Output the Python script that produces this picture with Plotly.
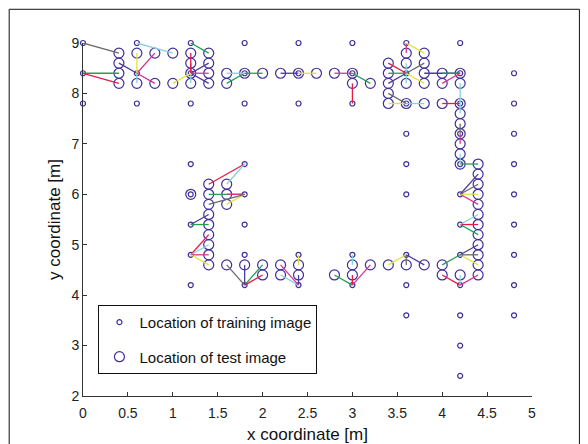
import plotly.graph_objects as go

# ---- data ----
train_x = [0, 0.6, 1.2, 1.8, 2.4, 3.0, 3.6, 4.2,
           0, 0.6, 1.2, 1.8, 2.4, 3.0, 3.6, 4.2, 4.8,
           0, 0.6, 1.2, 1.8, 2.4, 3.0, 3.6, 4.2, 4.8,
           3.6, 4.2, 4.8,
           1.2, 1.8, 3.6, 4.2, 4.8,
           1.2, 1.8, 3.6, 4.2, 4.8,
           1.2, 1.8, 4.2, 4.8,
           1.2, 1.8, 2.4, 3.0, 3.6, 4.2, 4.8,
           1.2, 1.8, 2.4, 3.0, 3.6, 4.2, 4.8,
           3.6, 4.2, 4.8,
           4.2,
           4.2]
train_y = [9.0] * 8 + [8.4] * 9 + [7.8] * 9 + [7.2] * 3 + [6.6] * 5 + [6.0] * 5 + \
          [5.4] * 4 + [4.8] * 7 + [4.2] * 7 + [3.6] * 3 + [3.0] + [2.4]

# test location -> estimated (training) location, link colour code
test_x = [0.4, 0.4, 0.4, 0.4, 0.6, 0.6, 0.8, 0.8, 1.0, 1.0,
          1.2, 1.2, 1.2, 1.2, 1.4, 1.4, 1.4, 1.4, 1.6, 1.6,
          1.8, 2.0, 2.2, 2.4, 2.6, 2.8, 3.0, 3.0, 3.2, 3.4,
          3.4, 3.4, 3.4, 3.4, 3.6, 3.6, 3.6, 3.6, 3.8, 3.8,
          3.8, 3.8, 3.8, 4.0, 4.0, 4.0, 4.2, 4.2, 4.2, 4.2,
          4.2, 4.2, 4.2, 4.2, 4.2, 4.4,
          4.4, 4.4, 4.4, 4.4, 4.4, 4.4, 4.4, 4.4, 4.4, 4.4, 4.0, 4.4, 4.2, 4.0,
          3.8, 3.6, 3.4, 3.2, 3.0, 3.0, 2.8, 2.4, 2.4, 2.2, 2.2, 2.0, 2.0, 1.8, 1.6,
          1.4, 1.4, 1.4, 1.4, 1.4, 1.4, 1.4, 1.6, 1.4, 1.6, 1.2, 1.4, 1.6]
test_y = [8.8, 8.6, 8.4, 8.2, 8.8, 8.2, 8.8, 8.2, 8.8, 8.2,
          8.8, 8.6, 8.4, 8.2, 8.8, 8.6, 8.4, 8.2, 8.4, 8.2,
          8.4, 8.4, 8.4, 8.4, 8.4, 8.4, 8.4, 8.2, 8.2, 8.6,
          8.4, 8.2, 8.0, 7.8, 8.8, 8.6, 8.2, 7.8, 8.8, 8.6,
          8.4, 8.2, 7.8, 8.4, 8.2, 7.8, 8.4, 8.2, 7.8, 7.6,
          7.4, 7.2, 7.0, 6.8, 6.6, 6.6,
          6.4, 6.2, 6.0, 5.8, 5.6, 5.4, 5.2, 5.0, 4.8, 4.6, 4.6, 4.4, 4.4, 4.4,
          4.6, 4.6, 4.6, 4.6, 4.6, 4.4, 4.4, 4.6, 4.4, 4.6, 4.4, 4.6, 4.4, 4.6, 4.6,
          4.6, 4.8, 5.0, 5.2, 5.4, 5.6, 5.8, 5.8, 6.0, 6.0, 6.0, 6.2, 6.2]
est_x = [0.0, 0.6, 0.0, 0.0, 0.6, 0.6, 0.6, 0.6, 0.6, 1.2,
         1.2, 1.2, 1.2, 1.2, 1.2, 1.2, 1.2, 1.2, 1.8, 1.8,
         1.8, 1.8, 2.4, 2.4, 2.4, 3.0, 3.0, 3.0, 3.0, 3.6,
         3.6, 3.6, 3.6, 3.6, 3.6, 3.6, 3.6, 3.6, 3.6, 3.6,
         4.2, 3.6, 3.6, 4.2, 4.2, 4.2, 4.2, 4.2, 4.2, 4.2,
         4.2, 4.2, 4.2, 4.2, 4.2, 4.2,
         4.2, 4.2, 4.2, 4.2, 4.2, 4.2, 4.2, 4.2, 4.2, 4.2, 4.2, 4.2, 4.2, 4.2,
         3.6, 3.6, 3.6, 3.0, 3.0, 3.0, 3.0, 2.4, 2.4, 2.4, 2.4, 1.8, 1.8, 1.8, 1.8,
         1.2, 1.2, 1.2, 1.2, 1.2, 1.2, 1.8, 1.8, 1.8, 1.8, 1.2, 1.8, 1.8]
est_y = [9.0, 8.4, 8.4, 8.4, 8.4, 8.4, 8.4, 8.4, 9.0, 8.4,
         8.4, 8.4, 8.4, 8.4, 9.0, 8.4, 8.4, 8.4, 8.4, 8.4,
         8.4, 8.4, 8.4, 8.4, 8.4, 8.4, 8.4, 7.8, 8.4, 8.4,
         8.4, 8.4, 7.8, 7.8, 9.0, 8.4, 8.4, 7.8, 9.0, 8.4,
         8.4, 8.4, 7.8, 8.4, 8.4, 7.8, 8.4, 7.8, 7.8, 7.8,
         7.2, 7.2, 7.2, 6.6, 6.6, 6.6,
         6.0, 6.0, 6.0, 6.0, 5.4, 5.4, 5.4, 4.8, 4.8, 4.8, 4.8, 4.2, 4.2, 4.2,
         4.8, 4.8, 4.8, 4.2, 4.8, 4.2, 4.2, 4.8, 4.2, 4.2, 4.2, 4.2, 4.2, 4.2, 4.2,
         4.8, 4.8, 4.8, 4.8, 5.4, 5.4, 6.0, 6.0, 6.0, 6.0, 6.0, 6.6, 6.6]
link_code = ['k', 'b', 'g', 'r', 'y', 'c', 'm', 'm', 'c', 'y',
             'r', 'r', 'b', 'c', 'g', 'b', 'm', 'b', 'c', 'g',
             'b', 'g', 'b', 'b', 'y', 'm', 'b', 'r', 'g', 'r',
             'g', 'b', 'k', 'y', 'm', 'c', 'c', 'b', 'y', 'k',
             'b', 'y', 'c', 'g', 'm', 'r', 'b', 'c', 'b', 'c',
             'k', 'b', 'm', 'c', 'b', 'g',
             'b', 'k', 'y', 'm', 'c', 'r', 'g', 'b', 'k', 'y', 'g', 'm', 'c', 'r',
             'b', 'k', 'y', 'm', 'c', 'r', 'g', 'y', 'b', 'm', 'c', 'g', 'r', 'b', 'k',
             'y', 'm', 'c', 'r', 'g', 'b', 'k', 'y', 'g', 'm', 'b', 'r', 'c']

x_ticks = [0, 0.5, 1, 1.5, 2, 2.5, 3, 3.5, 4, 4.5, 5]
x_tick_labels = ['0', '0.5', '1', '1.5', '2', '2.5', '3', '3.5', '4', '4.5', '5']
y_ticks = [2, 3, 4, 5, 6, 7, 8, 9]

# ---- styles ----
palette = {'b': '#4a3c9e', 'g': '#22a055', 'r': '#e8194b', 'c': '#86d2dc',
           'm': '#d8348e', 'y': '#e2e23c', 'k': '#6a6a6a'}
marker_col = '#3e2f98'

fig = go.Figure()
fig.add_trace(go.Scatter(x=train_x, y=train_y, mode='markers',
                         name='Location of training image', legendgroup='a',
                         marker=dict(symbol='circle-open', size=5, color=marker_col,
                                     line=dict(width=1.2, color=marker_col)),
                         cliponaxis=False))
fig.add_trace(go.Scatter(x=test_x, y=test_y, mode='markers',
                         name='Location of test image', legendgroup='b',
                         marker=dict(symbol='circle-open', size=10, color=marker_col,
                                     line=dict(width=1.2, color=marker_col)),
                         cliponaxis=False))

for code, col in palette.items():
    xs, ys = [], []
    for tx, ty, ex, ey, c in zip(test_x, test_y, est_x, est_y, link_code):
        if c == code and (tx != ex or ty != ey):
            xs += [tx, ex, None]
            ys += [ty, ey, None]
    fig.add_trace(go.Scatter(x=xs, y=ys, mode='lines', showlegend=False,
                             line=dict(color=col, width=1.3), cliponaxis=False,
                             hoverinfo='skip'))

axis_font = dict(family='Liberation Sans, Arial, sans-serif', size=14, color='#222')
fig.update_layout(
    width=588, height=444,
    margin=dict(l=74.5, r=63.5, t=35, b=56),
    paper_bgcolor='white', plot_bgcolor='white',
    font=dict(family='Liberation Sans, Arial, sans-serif', color='#222'),
    xaxis=dict(range=[0, 5], tickvals=x_ticks, ticktext=x_tick_labels,
               showgrid=False, zeroline=False, showline=True, linecolor='#333',
               linewidth=1, ticks='inside', ticklen=4, tickcolor='#333',
               tickfont=axis_font, ticklabelstandoff=4,
               title=dict(text='x coordinate [m]', font=dict(size=17, color='#111'),
                          standoff=8)),
    yaxis=dict(range=[2, 9], tickvals=y_ticks, showgrid=False, zeroline=False,
               showline=True, linecolor='#333', linewidth=1, ticks='inside',
               ticklen=4, tickcolor='#333', tickfont=axis_font,
               title=dict(text='y coordinate [m]', font=dict(size=17, color='#111'),
                          standoff=6)),
    legend=dict(x=0.0344, y=0.258, xanchor='left', yanchor='top',
                bgcolor='white', bordercolor='#111', borderwidth=1,
                font=dict(size=15, color='#111'), traceorder='grouped',
                tracegroupgap=12),
    shapes=[dict(type='rect', xref='paper', yref='paper',
                 x0=-0.1644, x1=1.1056, y0=-0.2, y1=1.0955,
                 line=dict(color='#111', width=1), layer='above')],
)

fig.write_html('out.html')
